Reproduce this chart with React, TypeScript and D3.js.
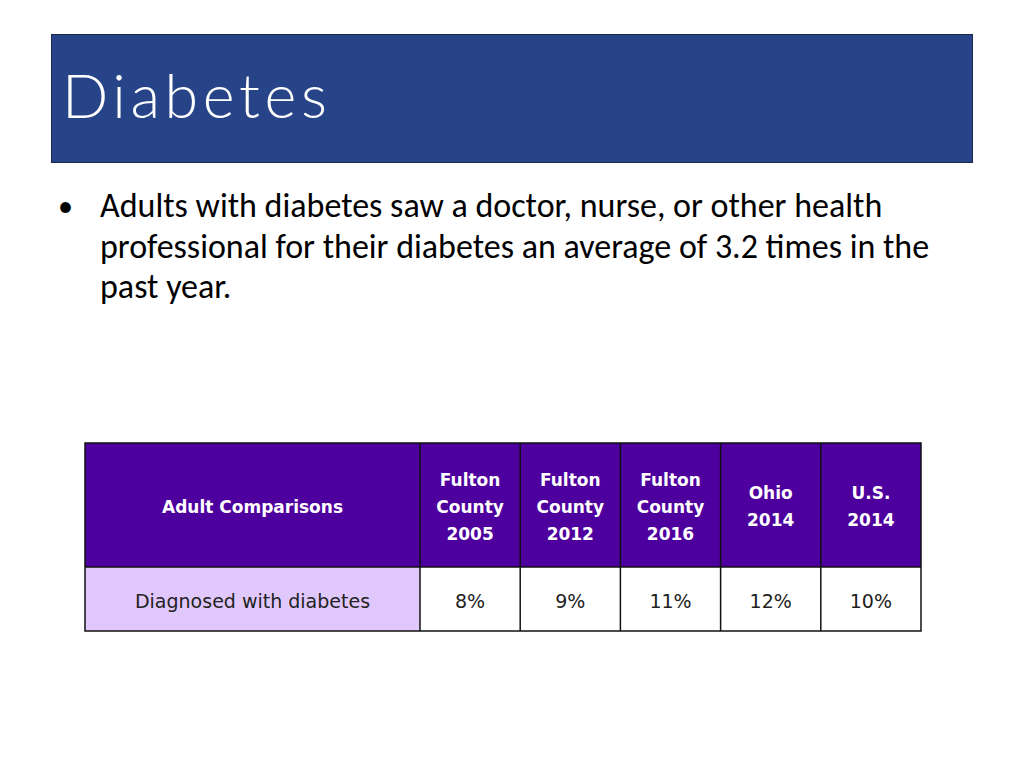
import React from "react";
import * as d3 from "d3";

// slide text
const titleText = "Diabetes";
const bulletLines = [
  "Adults with diabetes saw a doctor, nurse, or other health",
  "professional for their diabetes an average of 3.2 times in the",
  "past year.",
];

// table
const rowHeader = "Adult Comparisons";
const rowLabel = "Diagnosed with diabetes";
const columnLabels = [
  ["Fulton", "County", "2005"],
  ["Fulton", "County", "2012"],
  ["Fulton", "County", "2016"],
  ["Ohio", "2014"],
  ["U.S.", "2014"],
];
const values = [8, 9, 11, 12, 10];

const headFont = "'Century Gothic', 'DejaVu Sans', Lato, sans-serif";
const titleFont = "'Century Gothic', Lato, sans-serif";
const bodyFont = "Calibri, Carlito, 'Open Sans', sans-serif";

const App = () => {
  const left = 85, right = 921, firstColRight = 420;
  const top = 443, headBottom = 567, bottom = 631;

  const x = d3.scaleBand<number>()
    .domain(d3.range(columnLabels.length))
    .range([firstColRight, right]);

  const fmt = (v: number) => `${v}%`;
  const lineH = 27;

  return (
    <svg width={1024} height={768} style={{ position: "absolute", left: 0, top: 0, background: "#fff" }}>
      {/* title bar */}
      <rect x={51.5} y={34.5} width={921} height={128} fill="#264487" stroke="#1b2a4a" strokeWidth={1} />
      <text x={62} y={118} fill="#fff" fontFamily={titleFont} fontSize={61} fontWeight={300}
        letterSpacing={4.6}>{titleText}</text>

      {/* bullet */}
      <text x={58} y={216} fontFamily={bodyFont} fontSize={30} fill="#000">•</text>
      {bulletLines.map((l, i) => (
        <text key={i} x={100} y={217 + i * 40.5} fontFamily={bodyFont} fontSize={34} fill="#000">{l}</text>
      ))}

      {/* header row */}
      <rect x={left} y={top} width={right - left} height={headBottom - top} fill="#4e009e" />
      <rect x={left} y={headBottom} width={firstColRight - left} height={bottom - headBottom} fill="#e1c8fc" />
      <rect x={firstColRight} y={headBottom} width={right - firstColRight} height={bottom - headBottom} fill="#fff" />

      <text x={(left + firstColRight) / 2} y={(top + headBottom) / 2 + 2} dy="0.35em" textAnchor="middle"
        fontFamily={headFont} fontWeight={700} fontSize={17} fill="#fff">{rowHeader}</text>
      <text x={(left + firstColRight) / 2} y={(headBottom + bottom) / 2 + 2} dy="0.35em" textAnchor="middle"
        fontFamily={headFont} fontSize={19} fill="#222">{rowLabel}</text>

      {columnLabels.map((lines, i) => {
        const cx = x(i)! + x.bandwidth() / 2;
        const cy = (top + headBottom) / 2 + 2;
        const y0 = cy - ((lines.length - 1) * lineH) / 2;
        return (
          <g key={i}>
            {lines.map((t, j) => (
              <text key={j} x={cx} y={y0 + j * lineH} dy="0.35em" textAnchor="middle"
                fontFamily={headFont} fontWeight={700} fontSize={17} fill="#fff">{t}</text>
            ))}
            <text x={cx} y={(headBottom + bottom) / 2 + 2} dy="0.35em" textAnchor="middle"
              fontFamily={headFont} fontSize={19} fill="#222">{fmt(values[i])}</text>
          </g>
        );
      })}

      {/* grid lines */}
      <g stroke="#111" strokeWidth={1.5} fill="none">
        <rect x={left} y={top} width={right - left} height={bottom - top} />
        <line x1={left} x2={right} y1={headBottom} y2={headBottom} />
        <line x1={firstColRight} x2={firstColRight} y1={top} y2={bottom} />
        {d3.range(1, columnLabels.length).map(i => (
          <line key={i} x1={x(i)} x2={x(i)} y1={top} y2={bottom} />
        ))}
      </g>
    </svg>
  );
};

export default App;
